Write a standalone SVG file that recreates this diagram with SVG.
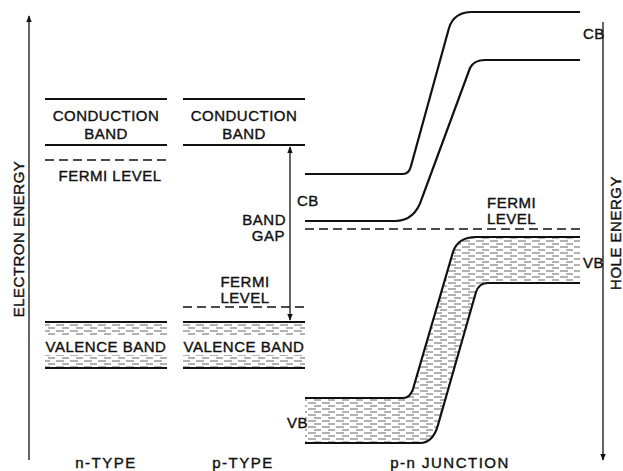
<svg xmlns="http://www.w3.org/2000/svg" width="623" height="471" viewBox="0 0 623 471">
<style>
text{font-family:"Liberation Sans",Arial,sans-serif;font-size:15px;fill:#111;stroke:#111;stroke-width:0.4;letter-spacing:0.5px}
.c{text-anchor:middle}
.e{text-anchor:end}
.w{letter-spacing:1.5px}
.b{stroke:#111;stroke-width:2.2;fill:none}
.t{stroke:#111;stroke-width:1.3;fill:none}
.d{stroke:#111;stroke-width:1.6;fill:none;stroke-dasharray:9 5}
</style>
<defs>
<pattern id="h" width="14" height="6" patternUnits="userSpaceOnUse">
<line x1="0" y1="1" x2="8" y2="1" stroke="#555" stroke-width="0.9"/>
<line x1="6" y1="4" x2="13" y2="4" stroke="#555" stroke-width="0.9"/>
</pattern>
<marker id="ah" viewBox="0 0 10 10" refX="9" refY="5" markerWidth="7" markerHeight="7" orient="auto-start-reverse" markerUnits="userSpaceOnUse">
<path d="M0,1 L10,5 L0,9 Z" fill="#111"/>
</marker>
</defs>

<g id="axes">
<line x1="29" y1="460" x2="29" y2="16" class="t" marker-end="url(#ah)"/>
<text transform="translate(24,239) rotate(-90)" class="c">ELECTRON ENERGY</text>
<line x1="603" y1="22" x2="603" y2="460" class="t" marker-end="url(#ah)"/>
<text transform="translate(621,233) rotate(-90)" class="c">HOLE ENERGY</text>
</g>

<g id="n-type">
<line x1="45" y1="99" x2="167" y2="99" class="b"/>
<line x1="45" y1="145" x2="167" y2="145" class="b"/>
<text x="106" y="121" class="c">CONDUCTION</text>
<text x="106" y="139" class="c">BAND</text>
<line x1="45" y1="160" x2="167" y2="160" class="d"/>
<text x="110" y="181" class="c">FERMI LEVEL</text>
<rect x="45" y="324" width="122" height="12" fill="url(#h)"/>
<rect x="45" y="355" width="122" height="12" fill="url(#h)"/>
<line x1="45" y1="322" x2="167" y2="322" class="b"/>
<line x1="45" y1="368" x2="167" y2="368" class="b"/>
<text x="106" y="352" class="c">VALENCE BAND</text>
<text x="106" y="468" class="c w">n-TYPE</text>
</g>

<g id="p-type">
<line x1="183" y1="99" x2="305" y2="99" class="b"/>
<line x1="183" y1="145" x2="305" y2="145" class="b"/>
<text x="244" y="121" class="c">CONDUCTION</text>
<text x="244" y="139" class="c">BAND</text>
<text x="245" y="287" class="c">FERMI</text>
<text x="245" y="303" class="c">LEVEL</text>
<line x1="183" y1="307" x2="305" y2="307" class="d"/>
<rect x="183" y="324" width="122" height="12" fill="url(#h)"/>
<rect x="183" y="355" width="122" height="12" fill="url(#h)"/>
<line x1="183" y1="322" x2="305" y2="322" class="b"/>
<line x1="183" y1="368" x2="305" y2="368" class="b"/>
<text x="244" y="352" class="c">VALENCE BAND</text>
<text x="286" y="225" class="e">BAND</text>
<text x="285" y="241" class="e">GAP</text>
<text x="243" y="468" class="c w">p-TYPE</text>
</g>

<g id="connectors">
<line x1="290" y1="147" x2="290" y2="320" class="t" marker-start="url(#ah)" marker-end="url(#ah)"/>
</g>

<g id="junction">
<path d="M305,398 L403,398 Q410,398 413,389 L453,252 Q458,237 476,237 L580,237 L580,283 L488,283 Q479,283 476,292 L438,425 Q433,443 420,443 L305,443 Z" fill="url(#h)"/>
<path d="M305,398 L403,398 Q410,398 413,389 L453,252 Q458,237 476,237 L580,237" class="b"/>
<path d="M305,443 L420,443 Q433,443 438,425 L476,292 Q479,283 488,283 L580,283" class="b"/>
<path d="M305,174 L403,174 Q409,174 411,166 L449,28 Q454,12 472,12 L580,12" class="b"/>
<path d="M305,221 L395,221 Q415,221 422,198 L470,68 Q474,60 485,60 L580,60" class="b"/>
<line x1="305" y1="229" x2="580" y2="229" class="d"/>
<text x="297" y="206">CB</text>
<text x="583" y="39">CB</text>
<text x="487" y="208">FERMI</text>
<text x="487" y="224">LEVEL</text>
<text x="583" y="268">VB</text>
<text x="287" y="428">VB</text>
<text x="450" y="468" class="c w">p-n JUNCTION</text>
</g>
</svg>
